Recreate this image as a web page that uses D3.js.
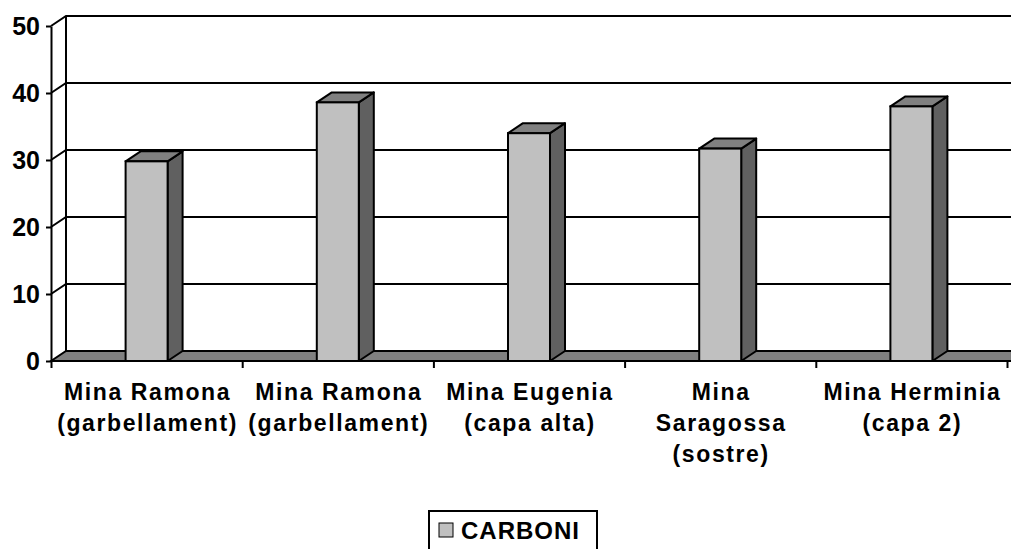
<!DOCTYPE html>
<html>
<head>
<meta charset="utf-8">
<script src="https://cdn.jsdelivr.net/npm/d3@7"></script>
<style>
  body { margin: 0; background: #fff; }
  svg text { font-family: "Liberation Sans", Arial, sans-serif; font-weight: bold; fill: #000; }
</style>
</head>
<body>
<svg id="chart"></svg>
<script>
// data
const categories = [
  ["Mina Ramona", "(garbellament)"],
  ["Mina Ramona", "(garbellament)"],
  ["Mina Eugenia", "(capa alta)"],
  ["Mina", "Saragossa", "(sostre)"],
  ["Mina Herminia", "(capa 2)"]
];
const values = [29.8, 38.6, 34.0, 31.7, 38.0];
const yTicks = [0, 10, 20, 30, 40, 50];
const seriesName = "CARBONI";

// constants
const width = 1011;
const height = 549;
const depth = { dx: 15, dy: -10 };
const plot = { left: 51, right: 1007, top: 26, bottom: 361 };
const barWidth = 42;

const svg = d3.select('svg#chart').attr('width', width).attr('height', height);

const x = d3.scaleBand()
    .domain(d3.range(categories.length))
    .range([plot.left, plot.right]);

const xEdge = d3.scaleLinear()
    .domain([0, categories.length])
    .range([plot.left, plot.right]);

const y = d3.scaleLinear()
    .domain([0, 50])
    .range([plot.bottom, plot.top]);

// back wall gridlines + side wall diagonals
const grid = svg.append('g').attr('class', 'grid');
yTicks.filter(t => t > 0).forEach(t => {
    grid.append('path')
        .attr('d', 'M' + plot.left + ',' + y(t) +
            'L' + (plot.left + depth.dx) + ',' + (y(t) + depth.dy) +
            'L' + (width + 20) + ',' + (y(t) + depth.dy))
        .attr('fill', 'none').attr('stroke', '#000').attr('stroke-width', 2);
});
grid.append('line')
    .attr('x1', plot.left + depth.dx).attr('x2', plot.left + depth.dx)
    .attr('y1', y(0) + depth.dy).attr('y2', y(50) + depth.dy)
    .attr('stroke', '#000').attr('stroke-width', 2);

// floor
svg.append('path')
    .attr('d', 'M' + plot.left + ',' + y(0) +
        'L' + (plot.left + depth.dx) + ',' + (y(0) + depth.dy) +
        'L' + (width + 30) + ',' + (y(0) + depth.dy) +
        'L' + (width + 15) + ',' + y(0) + 'Z')
    .attr('fill', '#808080').attr('stroke', '#000').attr('stroke-width', 2);

// bars
const bars = svg.append('g').selectAll('g').data(values).enter().append('g');
const bx = (d, i) => x(i) + (x.bandwidth() - barWidth) / 2;

bars.append('path') // side
    .attr('d', (d, i) => {
        const x1 = bx(d, i) + barWidth;
        return 'M' + x1 + ',' + y(0) + 'L' + x1 + ',' + y(d) +
            'L' + (x1 + depth.dx) + ',' + (y(d) + depth.dy) +
            'L' + (x1 + depth.dx) + ',' + (y(0) + depth.dy) + 'Z';
    })
    .attr('fill', '#606060').attr('stroke', '#000').attr('stroke-width', 2).attr('stroke-linejoin', 'round');

bars.append('path') // top
    .attr('d', (d, i) => {
        const x0 = bx(d, i);
        return 'M' + x0 + ',' + y(d) + 'L' + (x0 + depth.dx) + ',' + (y(d) + depth.dy) +
            'L' + (x0 + barWidth + depth.dx) + ',' + (y(d) + depth.dy) +
            'L' + (x0 + barWidth) + ',' + y(d) + 'Z';
    })
    .attr('fill', '#808080').attr('stroke', '#000').attr('stroke-width', 2).attr('stroke-linejoin', 'round');

bars.append('rect') // front
    .attr('x', bx)
    .attr('y', d => y(d))
    .attr('width', barWidth)
    .attr('height', d => y(0) - y(d))
    .attr('fill', '#c0c0c0').attr('stroke', '#000').attr('stroke-width', 2);

// y axis
const yAxis = svg.append('g')
    .attr('transform', 'translate(' + plot.left + ',0)')
    .call(d3.axisLeft(y).tickValues(yTicks).tickSize(5).tickSizeOuter(0).tickPadding(6));
yAxis.selectAll('path, line').attr('stroke', '#000').attr('stroke-width', 2);
yAxis.selectAll('text').style('font-size', '25px').attr('fill', '#000');

// x axis ticks
const xAxis = svg.append('g')
    .attr('transform', 'translate(0,' + plot.bottom + ')')
    .call(d3.axisBottom(xEdge).ticks(categories.length).tickFormat('').tickSize(7).tickSizeOuter(0));
xAxis.select('path').attr('d', 'M' + plot.left + ',0H' + (width + 10));
xAxis.selectAll('path, line').attr('stroke', '#000').attr('stroke-width', 2);

// category labels
const labels = svg.append('g').selectAll('text').data(categories).enter().append('text')
    .attr('text-anchor', 'middle')
    .style('font-size', '23px')
    .style('letter-spacing', '1.6px');
labels.selectAll('tspan').data((d, i) => d.map(s => ({ s: s, i: i }))).enter().append('tspan')
    .attr('x', d => x(d.i) + x.bandwidth() / 2 + 1)
    .attr('y', (d, j) => 400 + j * 31)
    .text(d => d.s);

// legend
const legend = svg.append('g');
legend.append('rect')
    .attr('x', 429).attr('y', 511).attr('width', 168).attr('height', 60)
    .attr('fill', '#fff').attr('stroke', '#000').attr('stroke-width', 2);
legend.append('rect')
    .attr('x', 439).attr('y', 523).attr('width', 14).attr('height', 14)
    .attr('fill', '#c0c0c0').attr('stroke', '#000').attr('stroke-width', 1);
legend.append('text')
    .attr('x', 461).attr('y', 539)
    .style('font-size', '24px')
    .style('letter-spacing', '1px')
    .text(seriesName);
</script>
</body>
</html>
